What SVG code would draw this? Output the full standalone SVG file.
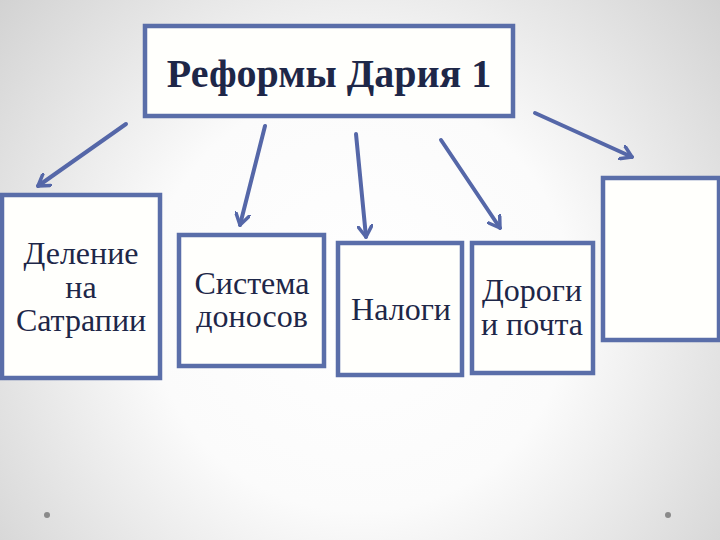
<svg xmlns="http://www.w3.org/2000/svg" width="720" height="540" viewBox="0 0 720 540">
<defs>
<radialGradient id="bg" cx="360" cy="300" r="470" gradientUnits="userSpaceOnUse">
<stop offset="0" stop-color="#ffffff"/>
<stop offset="0.45" stop-color="#fbfbfb"/>
<stop offset="1" stop-color="#d2d2d2"/>
</radialGradient>
<marker id="arr" viewBox="-12 -8 14 16" refX="0" refY="0" markerWidth="14" markerHeight="16" markerUnits="userSpaceOnUse" orient="auto">
<path d="M-11,-7 L0,0 L-11,7" fill="none" stroke="#5567a8" stroke-width="3.5" stroke-linecap="round" stroke-linejoin="round"/>
</marker>
</defs>
<style>
.box{fill:#fffffc;stroke:#5a6ea9;stroke-width:4.5}
.t{font-family:'Liberation Serif','Times New Roman',serif;fill:#1e2748;text-anchor:middle}
.title{font-size:40px;font-weight:bold}
.lbl{font-size:32px}
.con{stroke:#5567a8;stroke-width:4;fill:none;stroke-linecap:round;marker-end:url(#arr)}
</style>
<rect width="720" height="540" fill="url(#bg)"/>
<g id="connectors">
<line class="con" x1="126" y1="124" x2="38" y2="186"/>
<line class="con" x1="265" y1="126" x2="240" y2="225"/>
<line class="con" x1="356" y1="134" x2="366" y2="237"/>
<line class="con" x1="441" y1="140" x2="500" y2="228"/>
<line class="con" x1="535" y1="113" x2="632" y2="157"/>
</g>
<g id="title">
<rect class="box" x="145" y="26" width="368" height="90"/>
<text class="t title" x="329" y="87">Реформы Дария 1</text>
</g>
<g id="satrapies">
<rect class="box" x="2" y="195" width="158" height="183"/>
<text class="t lbl" x="81" y="264">Деление</text>
<text class="t lbl" x="81" y="298">на</text>
<text class="t lbl" x="81" y="331">Сатрапии</text>
</g>
<g id="informers">
<rect class="box" x="179" y="235" width="145" height="131"/>
<text class="t lbl" x="252" y="294">Система</text>
<text class="t lbl" x="252" y="327">доносов</text>
</g>
<g id="taxes">
<rect class="box" x="338" y="243" width="124" height="132"/>
<text class="t lbl" x="401" y="320">Налоги</text>
</g>
<g id="roads">
<rect class="box" x="472" y="243" width="121" height="130"/>
<text class="t lbl" x="532" y="301">Дороги</text>
<text class="t lbl" x="532" y="335">и почта</text>
</g>
<g id="empty">
<rect class="box" x="603" y="178" width="116" height="162"/>
</g>
<circle cx="47" cy="515" r="3" fill="#8a8a8a"/>
<circle cx="668" cy="515" r="3" fill="#8a8a8a"/>
</svg>
